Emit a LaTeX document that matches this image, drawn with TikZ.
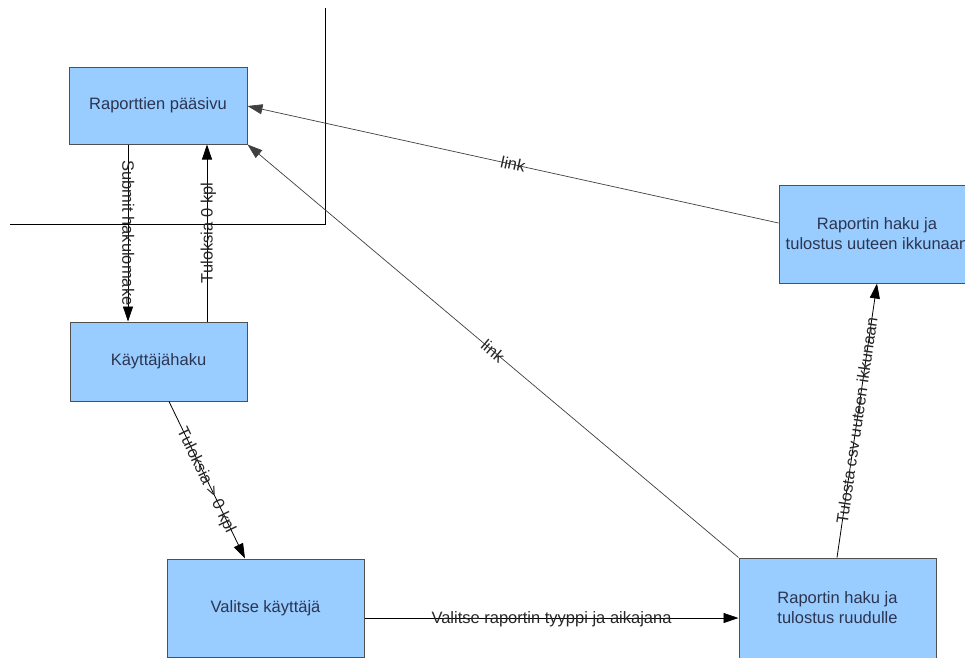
\documentclass[tikz,border=0pt]{standalone}
\usepackage{fontspec}
\setmainfont{Liberation Sans}
\usetikzlibrary{arrows.meta,calc}
\definecolor{boxfill}{HTML}{99CCFF}
\definecolor{boxline}{HTML}{505050}
\definecolor{boxtext}{HTML}{2B3550}
\definecolor{labeltext}{HTML}{262626}
\begin{document}
\begin{tikzpicture}[x=1pt,y=-1pt,
  box/.style={draw=boxline, line width=1pt, fill=boxfill, text=boxtext, inner sep=0pt, align=center, font=\fontsize{16.5}{20}\selectfont},
  conn/.style={draw=black, line width=0.8pt, -{Triangle[length=15pt,width=10pt]}},
  linkconn/.style={draw=black!75, line width=0.7pt, -{Triangle[length=15pt,width=10pt]}},
  lbl/.style={text=labeltext, font=\fontsize{16.5}{20}\selectfont, inner sep=0pt, text height=11.4pt, text depth=0pt}]
\useasboundingbox (0,0) rectangle (965,657);
\clip (0,0) rectangle (965,657);
\fill[white] (0,0) rectangle (965,657);
% frame lines
\draw[line width=0.9pt] (325,8) -- (325,224) -- (10,224);
% boxes
\node[box, minimum width=178pt, minimum height=77pt] (A) at (158,105.5) {Raporttien pääsivu};
\node[box, minimum width=177pt, minimum height=79pt] (B) at (158.5,361.5) {Käyttäjähaku};
\node[box, minimum width=197pt, minimum height=98pt] (C) at (265.5,608) {Valitse käyttäjä};
\node[box, minimum width=197pt, minimum height=100pt] (D) at (837.5,608) {Raportin haku ja\\tulostus ruudulle};
\node[box, minimum width=196pt, minimum height=98pt] (E) at (877,234) {Raportin haku ja\\tulostus uuteen ikkunaan};
% connectors
\draw[conn] ($(A.south)+(-30,0)$) -- node[lbl, rotate=-90] {Submit hakulomake} ($(B.north)+(-30.5,0)$);
\draw[conn] ($(B.north)+(48.5,0)$) -- node[lbl, rotate=90] {Tuloksia 0 kpl} ($(A.south)+(49,0)$);
\draw[conn] ($(B.south)+(10.5,0)$) -- node[lbl, sloped] {Tuloksia > 0 kpl} ($(C.north)+(-20.5,0)$);
\draw[conn] ($(C.east)+(0,10)$) -- node[lbl, sloped] {Valitse raportin tyyppi ja aikajana} ($(D.west)+(0,10)$);
\draw[conn] ($(D.north)+(-0.5,0)$) -- node[lbl, sloped] {Tulosta csv uuteen ikkunaan} (E.south);
\draw[linkconn] ($(E.west)+(0,-11)$) -- node[lbl, sloped] {link} ($(A.east)+(0,0.5)$);
\draw[linkconn] (D.north west) -- node[lbl, sloped] {link} (A.south east);
\end{tikzpicture}
\end{document}
